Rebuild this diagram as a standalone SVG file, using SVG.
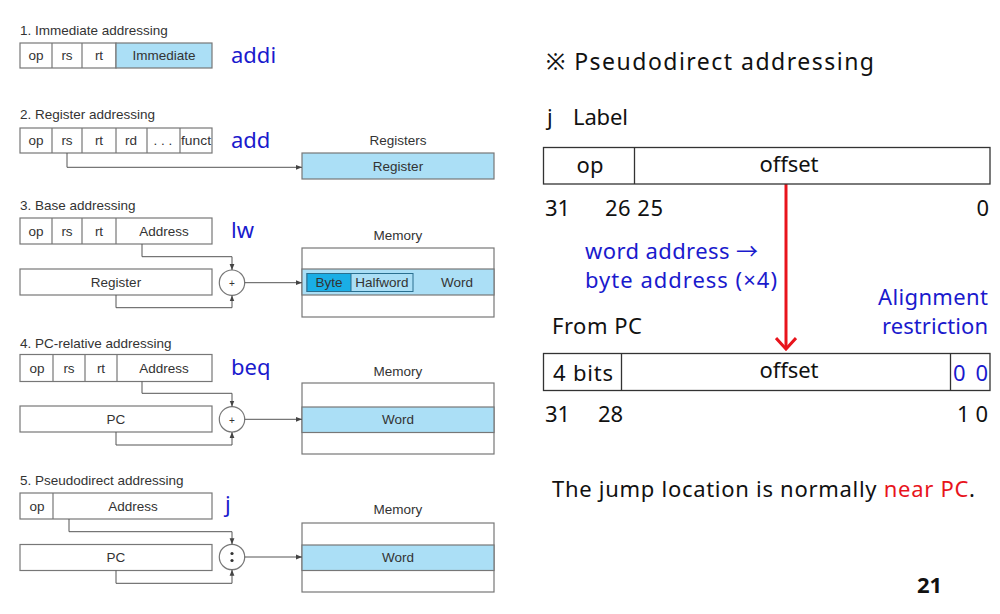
<svg xmlns="http://www.w3.org/2000/svg" width="1000" height="614" viewBox="0 0 1000 614">
<defs>
<marker id="ah" viewBox="0 0 10 10" refX="10" refY="5" markerWidth="6" markerHeight="6" orient="auto" markerUnits="userSpaceOnUse"><path d="M0,1 L10,5 L0,9 Z" fill="#444"/></marker>
<marker id="red" viewBox="0 0 22 14" refX="11" refY="12" markerWidth="22" markerHeight="14" orient="0" markerUnits="userSpaceOnUse"><path d="M1,1 L11,12 L21,1" fill="none" stroke="#e8141c" stroke-width="3"/></marker>
</defs>
<style>
.t{font-family:"Liberation Sans",Arial,sans-serif;font-size:13.5px;fill:#333}
.c{font-family:"Liberation Sans",Arial,sans-serif;font-size:13.5px;fill:#333;text-anchor:middle}
.b{fill:#fff;stroke:#777;stroke-width:1.2}
.hl{fill:#abdff6;stroke:#777;stroke-width:1.2}
.ln{fill:none;stroke:#555;stroke-width:1}
.dv{fill:none;stroke:#777;stroke-width:1.2}
.ins{font-family:"Noto Sans","Open Sans",sans-serif;font-size:22px;fill:#1a1acd}
.r{font-family:"Noto Sans","Noto Sans CJK KR",sans-serif;font-size:22px;fill:#111}
.rb{font-family:"Noto Sans","Noto Sans CJK KR",sans-serif;font-size:22px;fill:#1a1acd}
.fr{fill:#fff;stroke:#333;stroke-width:1.3}
</style>
<rect width="1000" height="614" fill="#fff"/>

<g id="sec1">
<text class="t" x="20" y="35">1.  Immediate addressing</text>
<rect class="b" x="20" y="43" width="96" height="25"/>
<rect class="hl" x="116" y="43" width="96" height="25"/>
<path class="dv" d="M52,43V68M82,43V68"/>
<text class="c" x="36" y="60">op</text>
<text class="c" x="67" y="60">rs</text>
<text class="c" x="99" y="60">rt</text>
<text class="c" x="164" y="60">Immediate</text>
<text class="ins" x="231" y="63">addi</text>
</g>

<g id="sec2">
<text class="t" x="20" y="119">2. Register addressing</text>
<rect class="b" x="20" y="128" width="192" height="25"/>
<path class="dv" d="M52,128V153M82,128V153M116,128V153M147,128V153M180,128V153"/>
<text class="c" x="36" y="145">op</text>
<text class="c" x="67" y="145">rs</text>
<text class="c" x="99" y="145">rt</text>
<text class="c" x="131" y="145">rd</text>
<text class="c" x="163" y="145">. . .</text>
<text class="c" x="196" y="145" textLength="30" lengthAdjust="spacingAndGlyphs">funct</text>
<text class="ins" x="231" y="148">add</text>
<text class="c" x="398" y="145">Registers</text>
<rect class="hl" x="302" y="153" width="192" height="26"/>
<text class="c" x="398" y="171">Register</text>
</g>

<g id="sec3">
<text class="t" x="20" y="210">3.  Base addressing</text>
<rect class="b" x="20" y="218" width="192" height="26"/>
<path class="dv" d="M52,218V244M82,218V244M116,218V244"/>
<text class="c" x="36" y="236">op</text>
<text class="c" x="67" y="236">rs</text>
<text class="c" x="99" y="236">rt</text>
<text class="c" x="164" y="236">Address</text>
<text class="ins" x="231" y="238">lw</text>
<rect class="b" x="20" y="269" width="192" height="26"/>
<text class="c" x="116" y="287">Register</text>
<circle class="b" cx="232" cy="282.7" r="12.7"/>
<text class="c" x="232" y="287" style="font-size:10px">+</text>
<text class="c" x="398" y="240">Memory</text>
<rect class="b" x="302" y="248" width="192" height="69"/>
<rect class="hl" x="302" y="269" width="192" height="26"/>
<rect x="307" y="273.5" width="106" height="18" fill="none" stroke="#2a6f8f" stroke-width="1"/>
<rect x="307" y="273.5" width="44" height="18" fill="#1aaee6" stroke="#2a6f8f" stroke-width="1"/>
<text class="c" x="329" y="287">Byte</text>
<text class="c" x="382" y="287">Halfword</text>
<text class="c" x="457" y="287">Word</text>
</g>

<g id="sec4">
<text class="t" x="20" y="348">4.  PC-relative addressing</text>
<rect class="b" x="20" y="354.5" width="192" height="27"/>
<path class="dv" d="M53,354.5V381.5M85,354.5V381.5M117,354.5V381.5"/>
<text class="c" x="37" y="373">op</text>
<text class="c" x="69" y="373">rs</text>
<text class="c" x="101" y="373">rt</text>
<text class="c" x="164" y="373">Address</text>
<text class="ins" x="231" y="375">beq</text>
<rect class="b" x="20" y="406" width="192" height="26"/>
<text class="c" x="116" y="424">PC</text>
<circle class="b" cx="232" cy="419.3" r="12.7"/>
<text class="c" x="232" y="423.5" style="font-size:10px">+</text>
<text class="c" x="398" y="376">Memory</text>
<rect class="b" x="302" y="383" width="192" height="71"/>
<rect class="hl" x="302" y="407" width="192" height="25.5"/>
<text class="c" x="398" y="424">Word</text>
</g>

<g id="sec5">
<text class="t" x="20" y="485">5.  Pseudodirect addressing</text>
<rect class="b" x="20" y="493" width="192" height="26"/>
<path class="dv" d="M53,493V519"/>
<text class="c" x="37" y="511">op</text>
<text class="c" x="133" y="511">Address</text>
<text class="ins" x="225" y="512">j</text>
<rect class="b" x="20" y="544.5" width="192" height="26"/>
<text class="c" x="116" y="562">PC</text>
<circle class="b" cx="232" cy="557" r="12.7"/>
<circle cx="232" cy="553.5" r="1.6" fill="#333"/>
<circle cx="232" cy="560.5" r="1.6" fill="#333"/>
<text class="c" x="398" y="514">Memory</text>
<rect class="b" x="302" y="523" width="192" height="69"/>
<rect class="hl" x="302" y="545" width="192" height="25.5"/>
<text class="c" x="398" y="562">Word</text>
</g>

<g id="connectors">
<path class="ln" d="M67,153V167.3H302" marker-end="url(#ah)"/>
<path class="ln" d="M142,244V256.7H232V270" marker-end="url(#ah)"/>
<path class="ln" d="M116,295V307.7H232V295.4" marker-end="url(#ah)"/>
<path class="ln" d="M244.7,282.7H302" marker-end="url(#ah)"/>
<path class="ln" d="M142,381.5V393.3H232V406.6" marker-end="url(#ah)"/>
<path class="ln" d="M116,432V445H232V432" marker-end="url(#ah)"/>
<path class="ln" d="M244.7,419.3H302" marker-end="url(#ah)"/>
<path class="ln" d="M69,519V531.7H232V544.3" marker-end="url(#ah)"/>
<path class="ln" d="M116,570.5V583.3H232V569.7" marker-end="url(#ah)"/>
<path class="ln" d="M244.7,557H302" marker-end="url(#ah)"/>
<path d="M786,184V349" fill="none" stroke="#e8141c" stroke-width="3" marker-end="url(#red)"/>
</g>

<g id="right">
<text class="r" x="546" y="70" style="font-size:23px" textLength="328" lengthAdjust="spacing">※ Pseudodirect addressing</text>
<text class="r" x="547" y="125">j</text>
<text class="r" x="573" y="125" textLength="55" lengthAdjust="spacing">Label</text>
<g id="fmt1">
<rect class="fr" x="543.5" y="147.5" width="446.5" height="36.5"/>
<line x1="634.5" y1="147.5" x2="634.5" y2="184" stroke="#333" stroke-width="1.3"/>
<text class="r" x="590" y="173" text-anchor="middle">op</text>
<text class="r" x="789" y="172" text-anchor="middle" textLength="59" lengthAdjust="spacing">offset</text>
</g>
<text class="r" x="545" y="216">31</text>
<text class="r" x="605" y="216" textLength="58" lengthAdjust="spacing">26 25</text>
<text class="r" x="989" y="216" text-anchor="end">0</text>
<text class="rb" x="585" y="259" textLength="173" lengthAdjust="spacing">word address →</text>
<text class="rb" x="585" y="288" textLength="192" lengthAdjust="spacing">byte address (×4)</text>
<text class="rb" x="988" y="305" text-anchor="end" textLength="110" lengthAdjust="spacing">Alignment</text>
<text class="rb" x="988" y="334" text-anchor="end" textLength="106" lengthAdjust="spacing">restriction</text>
<text class="r" x="552" y="334" textLength="90" lengthAdjust="spacing">From PC</text>
<g id="fmt2">
<rect class="fr" x="543.5" y="353.5" width="446.5" height="37"/>
<line x1="621.5" y1="353.5" x2="621.5" y2="390.5" stroke="#333" stroke-width="1.3"/>
<line x1="950.5" y1="353.5" x2="950.5" y2="390.5" stroke="#333" stroke-width="1.3"/>
<text class="r" x="553" y="381" textLength="60" lengthAdjust="spacing">4 bits</text>
<text class="r" x="789" y="378" text-anchor="middle" textLength="59" lengthAdjust="spacing">offset</text>
<text class="rb" x="988" y="381" text-anchor="end" textLength="35" lengthAdjust="spacing">0 0</text>
</g>
<text class="r" x="545" y="422">31</text>
<text class="r" x="598" y="422">28</text>
<text class="r" x="988" y="422" text-anchor="end" textLength="31" lengthAdjust="spacing">1 0</text>
<text class="r" x="552" y="497" textLength="423" lengthAdjust="spacing">The jump location is normally <tspan fill="#e8141c">near PC</tspan>.</text>
<text class="r" x="917" y="593" style="font-weight:bold">21</text>
</g>
</svg>
